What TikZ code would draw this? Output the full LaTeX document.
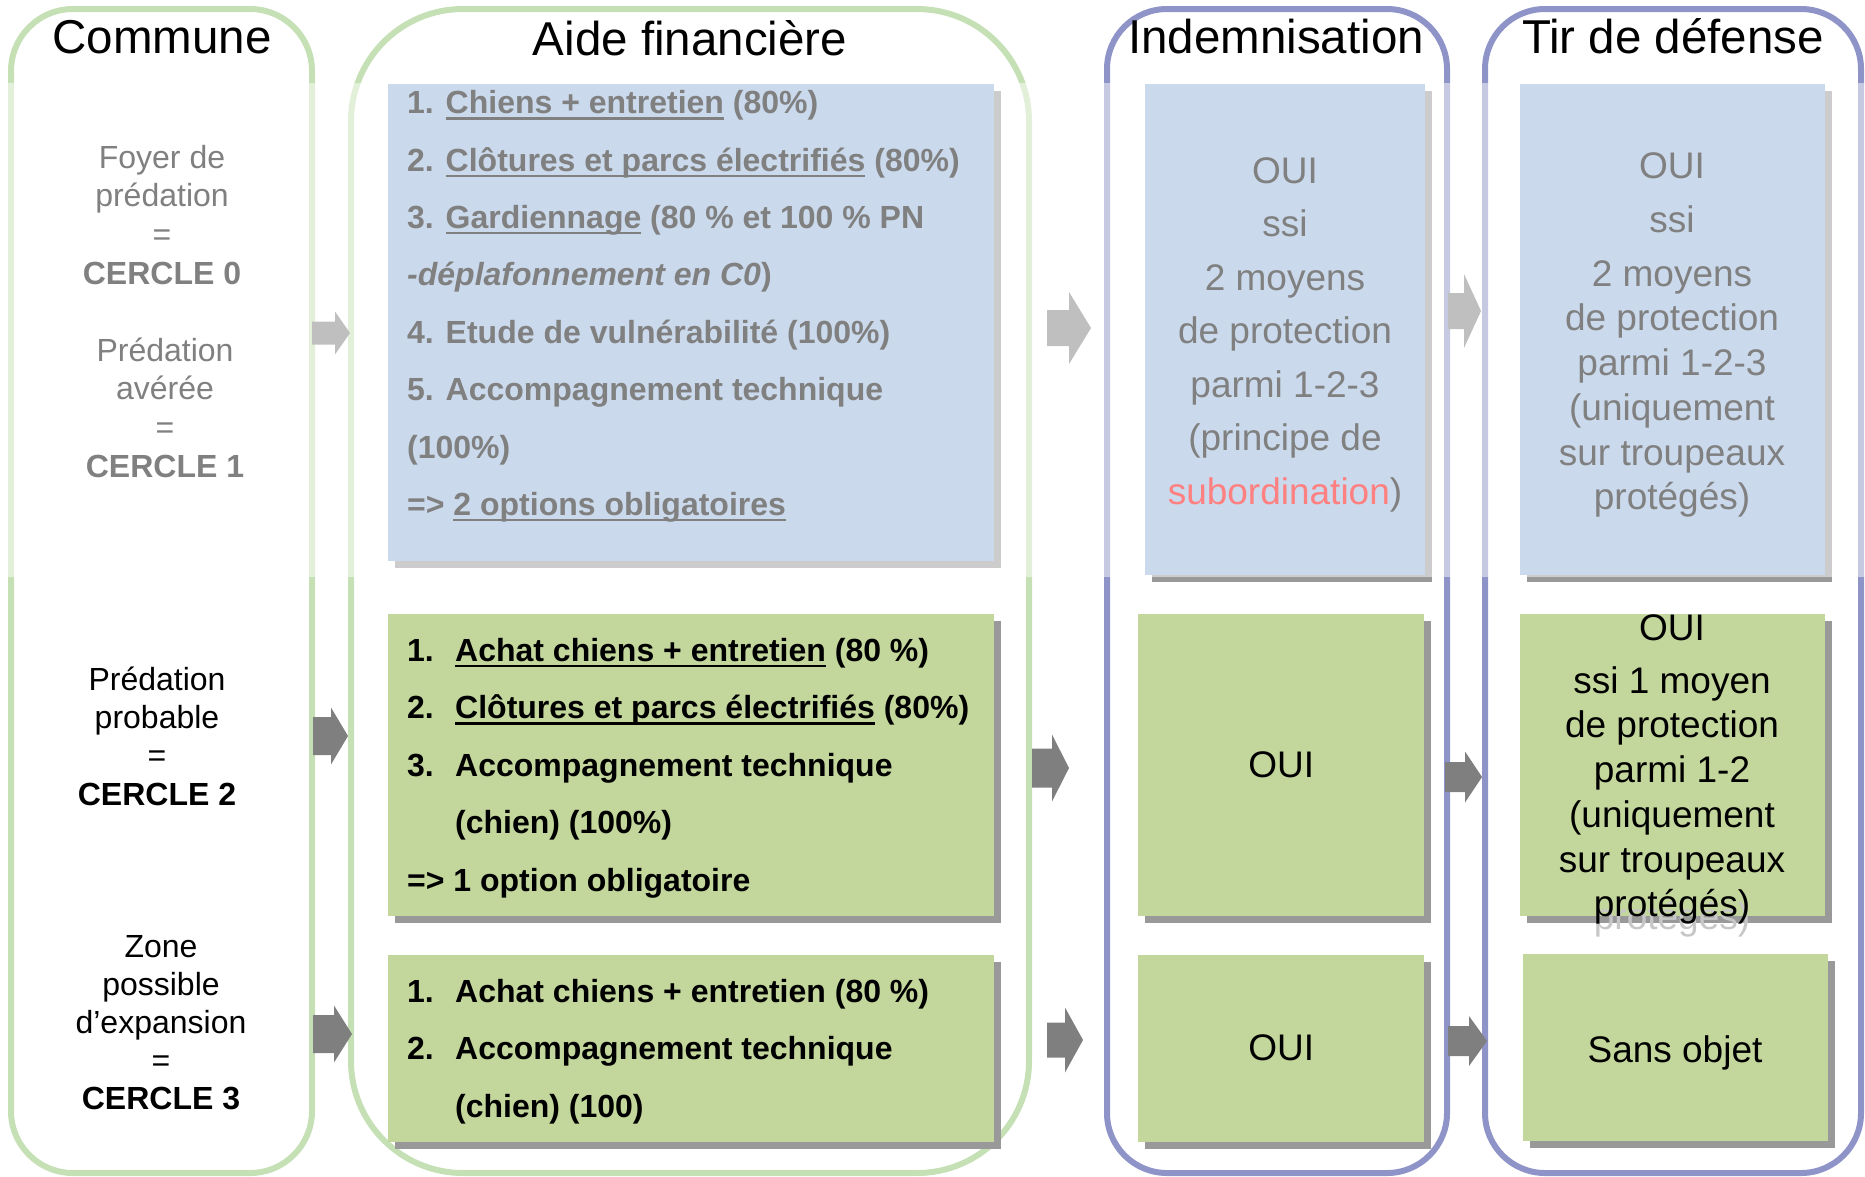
\documentclass[tikz,border=0pt]{standalone}
\usepackage{fontspec}
\setmainfont{Liberation Sans}
\usetikzlibrary{positioning,shadows}

\definecolor{frgreen}{HTML}{C5E0B4}
\definecolor{frblue}{HTML}{8F94C8}
\definecolor{boxblue}{HTML}{95B3D7}
\definecolor{boxgreen}{HTML}{C3D69B}
\definecolor{shgrey}{HTML}{999999}
\definecolor{argrey}{HTML}{7F7F7F}

\newsavebox\ulbox
\newcommand\souligne[1]{\sbox\ulbox{#1}\rlap{\rule[-6pt]{\wd\ulbox}{2.4pt}}\usebox\ulbox}
\newcommand\itemno[1]{\makebox[48pt][l]{#1}}
% from x, to x, middle y, shaft, head, tip length
\newcommand\blockarrow[6]{%
  \fill[argrey] (#1,#3-#4/2) -- (#2-#6,#3-#4/2) -- (#2-#6,#3-#5/2) -- (#2,#3)
    -- (#2-#6,#3+#5/2) -- (#2-#6,#3+#4/2) -- (#1,#3+#4/2) -- cycle;}

\begin{document}
\begin{tikzpicture}[x=1pt,y=-1pt,
    frame/.style={line width=6pt, rounded corners=#1},
    box/.style={inner sep=0, anchor=north west,
      drop shadow={shadow xshift=7pt, shadow yshift=-7pt, fill=shgrey, opacity=1}},
    bluebox/.style={box, fill=boxblue},
    greenbox/.style={box, fill=boxgreen},
    title/.style={anchor=base, inner sep=0, font=\fontsize{47.5}{57}\selectfont},
    comtxt/.style={anchor=north, inner sep=0, align=center},
    aidetxt/.style={anchor=north west, inner sep=0, align=left},
    restxt/.style={anchor=north, inner sep=0, align=center},
    oui/.style={inner sep=0, font=\fontsize{37}{44.7}\selectfont}]
  \useasboundingbox (0,0) rectangle (1865,1176);
  \clip (0,0) rectangle (1865,1176);

  % columns
  \draw[frame=62, draw=frgreen] (11,9) rectangle (312,1173);
  \draw[frame=112, draw=frgreen] (351,9) rectangle (1029,1173);
  \draw[frame=60, draw=frblue] (1107,9) rectangle (1447,1173);
  \draw[frame=60, draw=frblue] (1485,9) rectangle (1861,1173);

  \node[title] (commune) at (162,53) {Commune};
  \node[title] (aide) at (690,55) {Aide financière};
  \node[title] (indem) at (1276,53) {Indemnisation};
  \node[title] (tir) at (1673,53) {Tir de défense};

  % boxes
  \node[bluebox, minimum width=606pt, minimum height=477pt] (aideb) at (388,84) {};
  \node[bluebox, minimum width=280pt, minimum height=491pt] (indemb) at (1145,84) {};
  \node[bluebox, minimum width=305pt, minimum height=491pt] (tirb) at (1520,84) {};
  \node[greenbox, minimum width=606pt, minimum height=302pt] (aideg1) at (388,614) {};
  \node[greenbox, minimum width=606pt, minimum height=187pt,
    below=38pt of aideg1.south west, anchor=north west] (aideg2) {};
  \node[greenbox, minimum width=286pt, minimum height=302pt] (indemg1) at (1138,614) {};
  \node[greenbox, minimum width=286pt, minimum height=187pt,
    below=38pt of indemg1.south west, anchor=north west] (indemg2) {};
  \node[greenbox, minimum width=305pt, minimum height=302pt] (tirg1) at (1520,614) {};
  \node[greenbox, minimum width=305pt, minimum height=187pt] (tirg2) at (1523,954) {};

  % arrows
  \blockarrow{312}{350}{333}{23}{43}{15}
  \blockarrow{1047}{1091}{328}{36}{72}{22}
  \blockarrow{1448}{1481}{311}{36}{74}{17}
  \blockarrow{313}{348}{736}{38}{57}{17}
  \blockarrow{1032}{1069}{768}{39}{67}{17}
  \blockarrow{1445}{1482}{777}{30}{51}{17}
  \blockarrow{313}{352}{1034}{38}{57}{18}
  \blockarrow{1047}{1083}{1040}{35}{65}{18}
  \blockarrow{1448}{1487}{1041}{30}{50}{18}

  % texts
  \node[comtxt, font=\fontsize{32}{38.7}\selectfont] (c0) at (162,140.9)
    {\strut Foyer de\\prédation\\=\\\textbf{CERCLE 0}};
  \node[comtxt, font=\fontsize{32}{38.7}\selectfont] (c1) at (165,333.9)
    {\strut Prédation\\avérée\\=\\\textbf{CERCLE 1}};
  \node[comtxt, font=\fontsize{32}{38.3}\selectfont] (c2) at (157,663.2)
    {\strut Prédation\\probable\\=\\\textbf{CERCLE 2}};
  \node[comtxt, font=\fontsize{32}{38}\selectfont] (c3) at (161,930.4)
    {\strut Zone\\possible\\d’expansion\\=\\\textbf{CERCLE 3}};

  \node[aidetxt, font=\fontsize{32}{57.4}\selectfont\bfseries] (aidebtxt) at (407,73.3)
    {\strut 1. \souligne{Chiens + entretien} (80\%)\\
     2. \souligne{Clôtures et parcs électrifiés} (80\%)\\
     3. \souligne{Gardiennage} (80 \% et 100 \% PN\\
     \textit{-déplafonnement en C0})\\
     4. Etude de vulnérabilité (100\%)\\
     5. Accompagnement technique\\
     (100\%)\\
     => \souligne{2 options obligatoires}};
  \node[aidetxt, font=\fontsize{32}{57.5}\selectfont\bfseries] (aideg1txt) at (407,620.8)
    {\strut\itemno{1.}\souligne{Achat chiens + entretien} (80 \%)\\
     \itemno{2.}\souligne{Clôtures et parcs électrifiés} (80\%)\\
     \itemno{3.}Accompagnement technique\\
     \itemno{}(chien) (100\%)\\
     => 1 option obligatoire};
  \node[aidetxt, font=\fontsize{32}{57.5}\selectfont\bfseries] (aideg2txt) at (407,961.8)
    {\strut\itemno{1.}Achat chiens + entretien (80 \%)\\
     \itemno{2.}Accompagnement technique\\
     \itemno{}(chien) (100)};

  \node[restxt, font=\fontsize{37}{53.5}\selectfont] (indembtxt) at (1285,145.5)
    {\strut OUI\\ssi\\2 moyens\\de protection\\parmi 1-2-3\\(principe de\\
     \textcolor{red}{subordination})};
  \node[restxt, font=\fontsize{37}{44.7}\selectfont] (tirbtxt) at (1672,146.7)
    {\strut OUI\\[9.3pt]ssi\\[9.3pt]2 moyens\\de protection\\parmi 1-2-3\\(uniquement\\
     sur troupeaux\\protégés)};
  \node[oui, anchor=base, text=black!22] (ghost) at (1672,929) {protégés)};
  \node[restxt, font=\fontsize{37}{44.7}\selectfont] (tirg1txt) at (1672,608.7)
    {\strut OUI\\[8.3pt]ssi 1 moyen\\de protection\\parmi 1-2\\(uniquement\\
     sur troupeaux\\protégés)};
  \node[oui] (indemg1txt) at (indemg1) {OUI};
  \node[oui] (indemg2txt) at (indemg2) {OUI};
  \node[oui, anchor=base] (tirg2txt) at (1675,1062) {Sans objet};

  % faded band of cercles 0 and 1
  \fill[white, opacity=0.5] (0,83) rectangle (1865,577);
\end{tikzpicture}
\end{document}
